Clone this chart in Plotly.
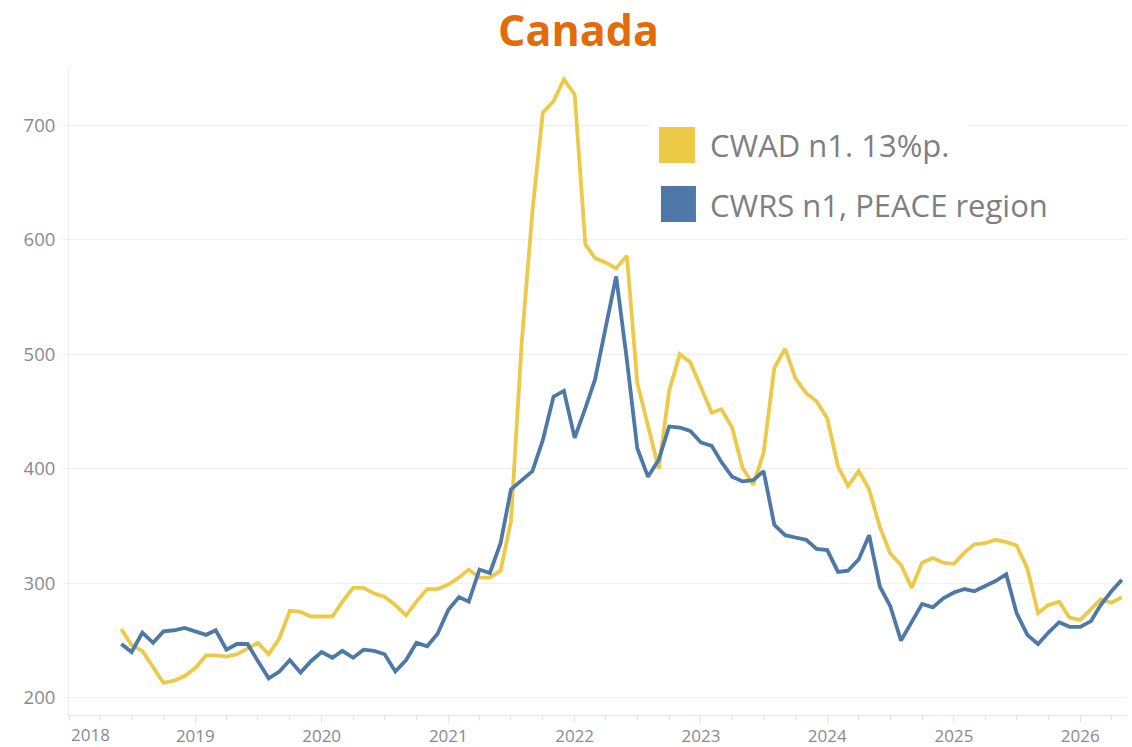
import pandas as pd
import plotly.graph_objects as go

# ---- data (monthly, Jun 2018 .. May 2026) ----
start_month = "2018-06-01"
n_months = 96
dates = pd.date_range(start_month, periods=n_months, freq="MS")

cwad_name = "CWAD n1. 13%p."
cwrs_name = "CWRS n1, PEACE region"

cwad = [
    260, 246, 241, 227, 213, 215, 219, 226, 237, 237, 236, 238,
    243, 248, 238, 252, 276, 275, 271, 271, 271, 284, 296, 296,
    291, 288, 281, 272, 284, 295, 295, 299, 305, 312, 305, 305,
    311, 354, 510, 625, 711, 721, 740, 727, 596, 584, 580, 575,
    586, 475, 438, 400, 468, 500, 493, 472, 449, 452, 436, 401,
    386, 414, 488, 505, 479, 466, 459, 444, 402, 385, 398, 382,
    349, 326, 316, 296, 318, 322, 318, 317, 327, 334, 335, 338,
    336, 333, 313, 274, 281, 284, 270, 268, 278, 286, 283, 288,
]

cwrs = [
    247, 240, 257, 248, 258, 259, 261, 258, 255, 259, 242, 247,
    247, 232, 217, 223, 233, 222, 232, 240, 235, 241, 235, 242,
    241, 238, 223, 233, 248, 245, 256, 277, 288, 284, 312, 309,
    335, 382, 390, 398, 425, 463, 468, 427, 453, 478, 524, 568,
    495, 418, 393, 408, 437, 436, 433, 423, 420, 406, 393, 389,
    390, 398, 351, 342, 340, 338, 330, 329, 310, 311, 321, 342,
    297, 280, 250, 267, 282, 279, 287, 292, 295, 293, 298, 302,
    308, 274, 255, 247, 257, 266, 262, 262, 267, 281, 293, 303,
]

year_ticks = [str(y) for y in range(2019, 2027)]
y_ticks = [200, 300, 400, 500, 600, 700]

# ---- styles ----
YELLOW = "#EDC948"
BLUE = "#4E79A7"
GRID = "#EFEFEF"
AXIS = "#E3E3E3"
TICKTXT = "#8A8A8A"
TITLE_COL = "#E36C09"

fig = go.Figure()
fig.add_trace(go.Scatter(x=dates, y=cwad, mode="lines", name=cwad_name,
                         line=dict(color=YELLOW, width=3.8), showlegend=False))
fig.add_trace(go.Scatter(x=dates, y=cwrs, mode="lines", name=cwrs_name,
                         line=dict(color=BLUE, width=3.8), showlegend=False))

fig.update_layout(
    width=1132, height=747,
    margin=dict(l=69, r=5, t=68, b=32),
    paper_bgcolor="white", plot_bgcolor="white",
    font=dict(family="Open Sans, Arial, sans-serif", color=TICKTXT),
    title=dict(text="<b>Canada</b>", x=578.5 / 1132, xanchor="center",
               y=1 - 31 / 747, yanchor="middle", yref="container",
               font=dict(family="Open Sans, sans-serif", size=43, color=TITLE_COL)),
    showlegend=False,
)

fig.update_xaxes(
    range=["2018-01-01", "2026-05-16"],
    tickvals=[f"{y}-01-01" for y in year_ticks],
    ticktext=year_ticks,
    tickfont=dict(size=17, color=TICKTXT),
    ticks="outside", ticklen=7, tickcolor=AXIS,
    ticklabelstandoff=-1,
    showgrid=False, showline=True, linecolor=AXIS, linewidth=1,
    zeroline=False, automargin=False,
    minor=dict(ticks="outside", ticklen=4, tickcolor=AXIS, dtick="M3",
               tick0="2018-01-01", showgrid=False),
)
fig.update_yaxes(
    range=[185, 750],
    tickvals=y_ticks,
    tickfont=dict(size=18.5, color=TICKTXT),
    ticks="outside", ticklen=6, tickcolor=GRID,
    ticklabelstandoff=3,
    showgrid=True, gridcolor=GRID, gridwidth=1,
    showline=True, linecolor=GRID, zeroline=False, automargin=False,
)

# first year label sits right of the axis start, as in the reference
fig.add_annotation(text="2018", x="2018-01-01", xref="x", y=0, yref="paper",
                   xanchor="left", yanchor="top", yshift=-6, showarrow=False,
                   font=dict(size=17, color=TICKTXT))

# ---- legend (large square swatches) ----
fig.add_shape(type="rect", xref="paper", yref="paper", x0=0.549, x1=0.85,
              y0=0.748, y1=0.935, fillcolor="white", line=dict(width=0),
              layer="above")
fig.add_shape(type="rect", xref="paper", yref="paper", x0=0.5577, x1=0.5917,
              y0=0.8532, y1=0.9088, fillcolor=YELLOW, line=dict(width=0),
              layer="above")
fig.add_shape(type="rect", xref="paper", yref="paper", x0=0.5595, x1=0.5926,
              y0=0.762, y1=0.8176, fillcolor=BLUE, line=dict(width=0),
              layer="above")
fig.add_annotation(text=cwad_name, xref="paper", yref="paper", x=0.6035, y=0.881,
                   xanchor="left", yanchor="middle", showarrow=False,
                   font=dict(size=31, color="#7F7F7F"))
fig.add_annotation(text=cwrs_name, xref="paper", yref="paper", x=0.6035, y=0.788,
                   xanchor="left", yanchor="middle", showarrow=False,
                   font=dict(size=31, color="#7F7F7F"))

fig.write_html("out.html", config={"displayModeBar": False},
               post_script="document.body.style.margin='0';document.body.style.overflow='hidden';")
